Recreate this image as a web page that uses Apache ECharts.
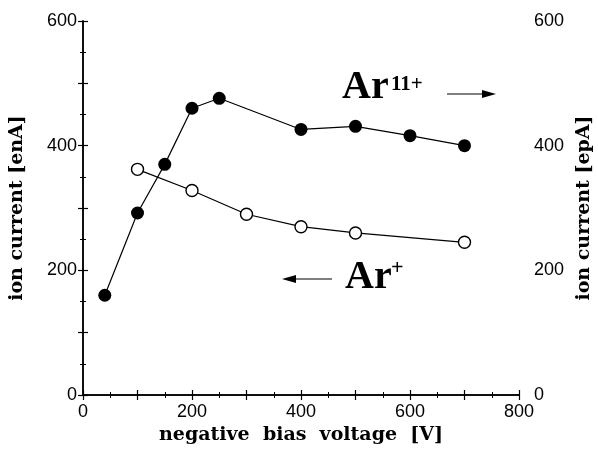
<!DOCTYPE html>
<html><head><meta charset="utf-8">
<script src="https://cdn.jsdelivr.net/npm/echarts@6/dist/echarts.min.js"></script>
<style>html,body{margin:0;padding:0;background:#fff}#c{width:598px;height:457px}</style>
</head><body><div id="c"></div>
<script>
// Ar+ (left axis, enA) — open circles
const arPlusX = [100, 200, 300, 400, 500, 700];
const arPlusY = [362, 328, 290, 270, 260, 245];
// Ar11+ (right axis, epA) — filled circles
const ar11X = [40, 100, 150, 200, 250, 400, 500, 600, 700];
const ar11Y = [160, 292, 370, 460, 476, 426, 431, 416, 400];
const xTickLabels = ['0', '200', '400', '600', '800'];
const yTickLabels = ['0', '200', '400', '600'];

const chart = echarts.init(document.getElementById('c'));
const nameFont = {fontFamily: 'DejaVu Serif', fontWeight: 'bold', fontSize: 19, color: '#000'};
const tickFont = {fontFamily: 'Liberation Sans', fontSize: 18, color: '#000'};
const axLine = {show: true, lineStyle: {color: '#000', width: 1.5}};
const tick = {show: true, inside: true, length: 5, lineStyle: {color: '#000', width: 1.2}};
const minor = {show: true, splitNumber: 2, length: 3, lineStyle: {color: '#000', width: 1}};
const bigFont = {fontFamily: 'Liberation Serif', fontWeight: 'bold', fill: '#000'};
function lab(list) {
  return function (v) { const s = String(v); return list.indexOf(s) >= 0 ? s : ''; };
}
chart.setOption({
  animation: false,
  backgroundColor: '#fff',
  grid: {left: 83, right: 79, top: 21, bottom: 62, containLabel: false, outerBoundsMode: 'none'},
  xAxis: [{
    type: 'value', min: 0, max: 800, interval: 100, position: 'bottom',
    name: 'negative  bias  voltage  [V]', nameLocation: 'middle', nameGap: 30,
    nameTextStyle: nameFont,
    axisLine: axLine, axisTick: tick, minorTick: minor, splitLine: {show: false},
    axisLabel: Object.assign({margin: 8, formatter: lab(xTickLabels)}, tickFont)
  }, {
    type: 'value', min: 0, max: 800, interval: 100, position: 'top',
    axisLine: axLine, axisTick: tick, minorTick: minor, splitLine: {show: false},
    axisLabel: {show: false}
  }],
  yAxis: [{
    type: 'value', min: 0, max: 600, interval: 100, position: 'left',
    name: 'ion current [enA]', nameLocation: 'middle', nameGap: 56, nameRotate: 90,
    nameTextStyle: nameFont,
    axisLine: axLine, axisTick: tick, minorTick: minor, splitLine: {show: false},
    axisLabel: Object.assign({margin: 6, formatter: lab(yTickLabels)}, tickFont)
  }, {
    type: 'value', min: 0, max: 600, interval: 100, position: 'right',
    name: 'ion current [epA]', nameLocation: 'middle', nameGap: 56, nameRotate: 90,
    nameTextStyle: nameFont,
    axisLine: axLine, axisTick: tick, minorTick: minor, splitLine: {show: false},
    axisLabel: Object.assign({margin: 15, formatter: lab(yTickLabels)}, tickFont)
  }],
  series: [{
    name: 'Ar+', type: 'line', xAxisIndex: 0, yAxisIndex: 0,
    data: arPlusX.map((x, i) => [x, arPlusY[i]]),
    symbol: 'circle', symbolSize: 12,
    itemStyle: {color: '#fff', borderColor: '#000', borderWidth: 1.4},
    lineStyle: {color: '#000', width: 1.2}, z: 3
  }, {
    name: 'Ar11+', type: 'line', xAxisIndex: 0, yAxisIndex: 1,
    data: ar11X.map((x, i) => [x, ar11Y[i]]),
    symbol: 'circle', symbolSize: 13,
    itemStyle: {color: '#000', borderColor: '#000', borderWidth: 0},
    lineStyle: {color: '#000', width: 1.2}, z: 4
  }],
  graphic: [
    {type: 'text', left: 342, top: 68, style: Object.assign({text: 'Ar', fontSize: 40}, bigFont)},
    {type: 'text', left: 391, top: 74, style: Object.assign({text: '11+', fontSize: 21}, bigFont)},
    {type: 'line', shape: {x1: 447, y1: 94, x2: 484, y2: 94}, style: {stroke: '#000', lineWidth: 1.2}},
    {type: 'polygon', shape: {points: [[496, 94], [482, 90], [482, 98]]}, style: {fill: '#000'}},
    {type: 'text', left: 345, top: 258, style: Object.assign({text: 'Ar', fontSize: 40}, bigFont)},
    {type: 'text', left: 391, top: 257, style: Object.assign({text: '+', fontSize: 22}, bigFont)},
    {type: 'line', shape: {x1: 295, y1: 279, x2: 332, y2: 279}, style: {stroke: '#000', lineWidth: 1.2}},
    {type: 'polygon', shape: {points: [[282, 279], [296, 275], [296, 283]]}, style: {fill: '#000'}}
  ]
});
</script></body></html>
